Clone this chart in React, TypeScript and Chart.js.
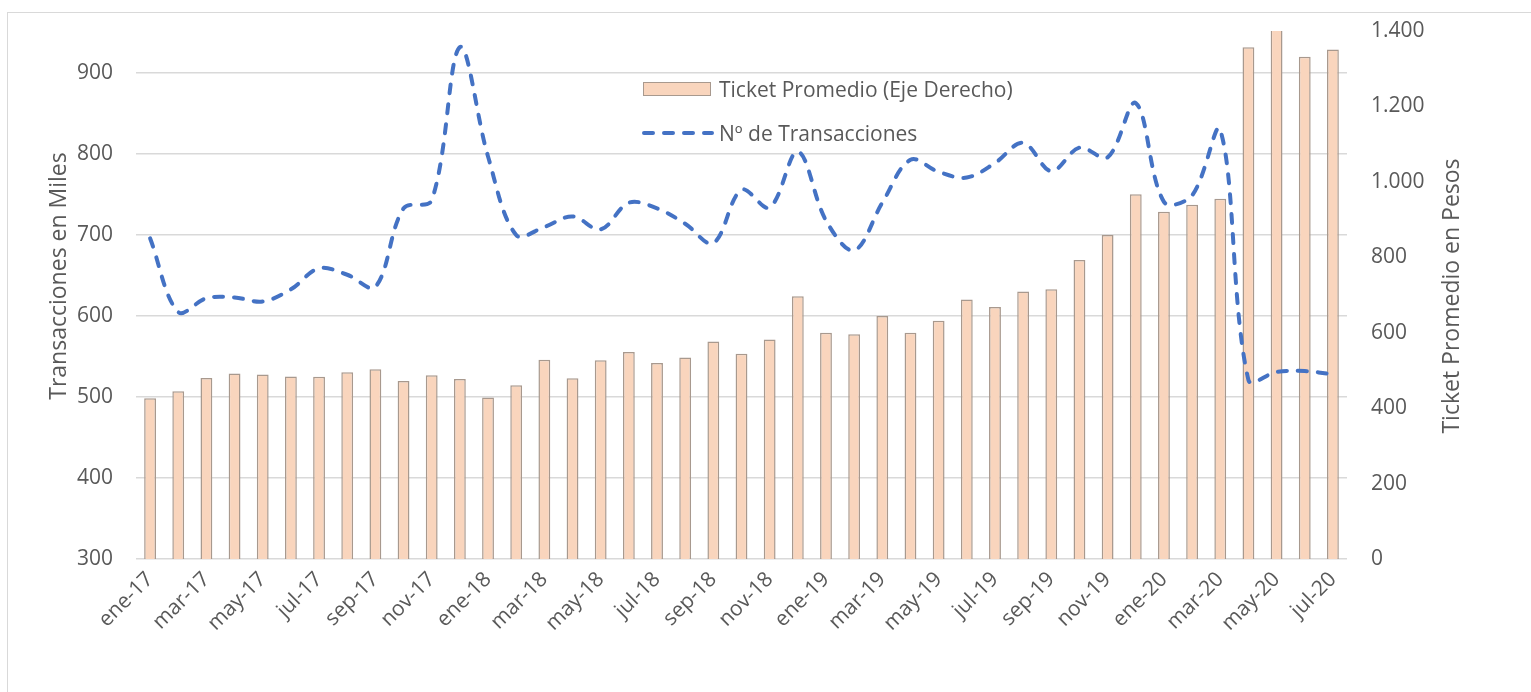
import React, { useEffect, useRef } from "react";
import { Chart, registerables } from "chart.js";

Chart.register(...registerables);

const months = [
  "ene-17", "feb-17", "mar-17", "abr-17", "may-17", "jun-17", "jul-17", "ago-17", "sep-17", "oct-17", "nov-17", "dic-17",
  "ene-18", "feb-18", "mar-18", "abr-18", "may-18", "jun-18", "jul-18", "ago-18", "sep-18", "oct-18", "nov-18", "dic-18",
  "ene-19", "feb-19", "mar-19", "abr-19", "may-19", "jun-19", "jul-19", "ago-19", "sep-19", "oct-19", "nov-19", "dic-19",
  "ene-20", "feb-20", "mar-20", "abr-20", "may-20", "jun-20", "jul-20",
];

const ticketPromedio = [
  426, 445, 480, 492, 489, 484, 483, 495, 503, 472, 487, 477,
  428, 461, 528, 479, 527, 549, 520, 534, 577, 544, 582, 697,
  600, 596, 644, 600, 632, 688, 668, 709, 715, 793, 859, 967,
  921, 939, 955, 1357, 1410, 1332, 1351,
];

const transacciones = [
  696, 605, 622, 623, 618, 633, 659, 651, 636, 733, 743, 932,
  797, 700, 710, 723, 707, 740, 733, 714, 690, 756, 734, 803,
  718, 681, 740, 793, 778, 771, 789, 814, 779, 808, 796, 863,
  741, 749, 830, 521, 531, 532, 528,
];

const leftTicks = [300, 400, 500, 600, 700, 800, 900];
const rightTicks = [0, 200, 400, 600, 800, 1000, 1200, 1400];

const barLabel = "Ticket Promedio (Eje Derecho)";
const lineLabel = "Nº de Transacciones";
const leftTitle = "Transacciones en Miles";
const rightTitle = "Ticket Promedio en Pesos";

const FONT = "'Open Sans', sans-serif";
const TEXT = "#595959";
const BAR_FILL = "rgb(249, 213, 189)";
const BAR_BORDER = "#A8998E";
const LINE = "#4472C4";
const GRID = "#D9D9D9";

const fmtThousands = (v: number) => String(v).replace(/\B(?=(\d{3})+(?!\d))/g, ".");

export default function App() {
  const ref = useRef<HTMLCanvasElement>(null);

  useEffect(() => {
    document.body.style.margin = "0";
    const canvas = ref.current;
    if (!canvas) return;

    const titlesPlugin = {
      id: "axisTitles",
      afterDraw(chart: any) {
        const { ctx, chartArea } = chart;
        const midY = (chartArea.top + chartArea.bottom) / 2;
        ctx.save();
        ctx.fillStyle = TEXT;
        ctx.font = `23px ${FONT}`;
        ctx.textAlign = "center";
        ctx.textBaseline = "alphabetic";
        ctx.translate(chartArea.left - 70, midY - 19);
        ctx.rotate(-Math.PI / 2);
        ctx.fillText(leftTitle, 0, 0);
        ctx.restore();

        ctx.save();
        ctx.fillStyle = TEXT;
        ctx.font = `23px ${FONT}`;
        ctx.textAlign = "center";
        ctx.textBaseline = "alphabetic";
        ctx.translate(chartArea.right + 112, midY + 1);
        ctx.rotate(-Math.PI / 2);
        ctx.fillText(rightTitle, 0, 0);
        ctx.restore();
      },
    };

    const chart = new Chart(canvas, {
      type: "bar",
      data: {
        labels: months,
        datasets: [
          {
            type: "line",
            label: lineLabel,
            data: transacciones,
            yAxisID: "yLeft",
            borderColor: LINE,
            backgroundColor: LINE,
            borderWidth: 4,
            borderDash: [9, 11],
            borderCapStyle: "round",
            pointRadius: 0,
            pointHoverRadius: 0,
            tension: 0.35,
            fill: false,
            order: 0,
          } as any,
          {
            type: "bar",
            label: barLabel,
            data: ticketPromedio,
            yAxisID: "yRight",
            backgroundColor: BAR_FILL,
            borderColor: BAR_BORDER,
            borderWidth: 1.5,
            barPercentage: 0.42,
            categoryPercentage: 1,
            clip: 0,
            order: 1,
          } as any,
        ],
      },
      options: {
        responsive: false,
        animation: false,
        devicePixelRatio: 1,
        layout: { padding: { top: 31, left: 0, right: 0, bottom: 0 } },
        plugins: {
          legend: { display: false },
          tooltip: { enabled: false },
        },
        scales: {
          x: {
            offset: true,
            grid: { display: false, drawTicks: false },
            border: { display: false },
            ticks: {
              autoSkip: false,
              minRotation: 45,
              maxRotation: 45,
              padding: 8,
              color: TEXT,
              font: { family: FONT, size: 21 },
              callback: (_v: any, i: number) => (i % 2 === 0 ? months[i] : ""),
            },
            afterFit: (s: any) => {
              s.height = 133;
            },
          },
          yLeft: {
            position: "left",
            min: 300,
            max: 952,
            grid: { color: GRID, lineWidth: 1.5, drawTicks: false },
            border: { display: false },
            ticks: {
              padding: 23,
              color: TEXT,
              font: { family: FONT, size: 21 },
            },
            afterBuildTicks: (s: any) => {
              s.ticks = leftTicks.map((v) => ({ value: v }));
            },
            afterFit: (s: any) => {
              s.width = 136;
              s.paddingTop = 0;
              s.paddingBottom = 0;
            },
          },
          yRight: {
            position: "right",
            min: 0,
            max: 1400,
            grid: { display: false, drawTicks: false },
            border: { display: false },
            ticks: {
              padding: 24,
              color: TEXT,
              font: { family: FONT, size: 21 },
              callback: (v: any) => fmtThousands(Number(v)),
            },
            afterBuildTicks: (s: any) => {
              s.ticks = rightTicks.map((v) => ({ value: v }));
            },
            afterFit: (s: any) => {
              s.width = 184;
              s.paddingTop = 0;
              s.paddingBottom = 0;
            },
          },
        },
      } as any,
      plugins: [titlesPlugin],
    });

    return () => chart.destroy();
  }, []);

  const legendText: React.CSSProperties = {
    position: "absolute",
    left: 719,
    font: `21px ${FONT}`,
    color: TEXT,
    whiteSpace: "nowrap",
    lineHeight: "28px",
    height: 28,
  };

  return (
    <div style={{ position: "fixed", left: 0, top: 0, width: 1531, height: 692, overflow: "hidden", background: "#fff" }}>
      <div
        style={{
          position: "absolute",
          left: 7,
          top: 12,
          width: 1600,
          height: 800,
          border: `1px solid ${GRID}`,
        }}
      />
      <canvas ref={ref} width={1531} height={692} style={{ position: "absolute", left: 0, top: 0, width: 1531, height: 692 }} />
      <div
        style={{
          position: "absolute",
          left: 643,
          top: 82,
          width: 68,
          height: 14,
          boxSizing: "border-box",
          background: BAR_FILL,
          border: `1.5px solid ${BAR_BORDER}`,
        }}
      />
      <div style={{ ...legendText, top: 75 }}>{barLabel}</div>
      <svg style={{ position: "absolute", left: 640, top: 126 }} width={76} height={14}>
        <line x1={4} y1={7} x2={72} y2={7} stroke={LINE} strokeWidth={4} strokeDasharray="9 11" strokeLinecap="round" />
      </svg>
      <div style={{ ...legendText, top: 119 }}>{lineLabel}</div>
    </div>
  );
}
